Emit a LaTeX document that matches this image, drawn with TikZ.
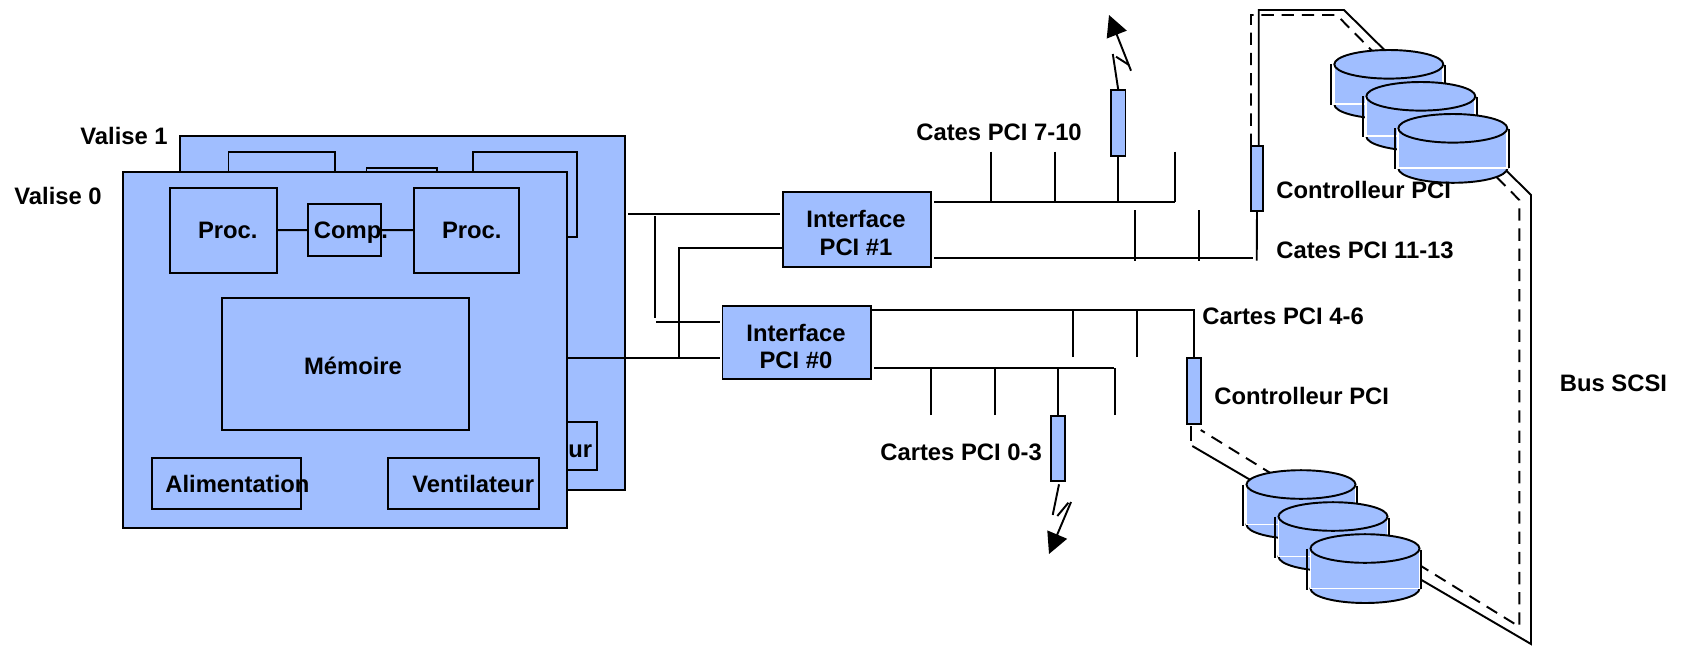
\documentclass[tikz,border=0pt]{standalone}
\usepackage{fontspec}
\setmainfont{Liberation Sans}
\usetikzlibrary{arrows.meta}
\definecolor{bleu}{RGB}{160,190,255}
\tikzset{
  trait/.style={line width=1.1pt},
  boite/.style 2 args={draw,fill=bleu,line width=1.1pt,minimum width=#1*0.02cm,minimum height=#2*0.02cm,inner sep=0pt,outer sep=0pt},
  etiquette/.style={anchor=base west,inner sep=0pt,align=center,font=\bfseries\fontsize{13.55}{15.9}\selectfont},
  fleche/.style={line width=1.1pt,-{Triangle[length=12pt,width=12pt]}},
  disque/.pic={
    \draw [trait,fill=bleu] (0,40) ellipse [x radius=54.5,y radius=14.5];
    \draw [draw=white,line width=1pt,fill=bleu] (-54.5,0) rectangle (54.5,40);
    \draw [line width=1.2pt] (-58,0) -- (-58,41);
    \draw [line width=1.2pt] (56.2,1) -- (56.2,40);
    \draw [trait,fill=bleu] (0,0) ellipse [x radius=54.5,y radius=14.3];
  }
}
\begin{document}
\begin{tikzpicture}[x=0.02cm,y=-0.02cm]
\useasboundingbox (0,0) rectangle (1683,646);
% valise 1
\node [boite={445}{354.3}] (valun) at (402.5,312.85) {};
\node [boite={106.5}{84.7}] (procgun) at (281.75,194.35) {};
\node [boite={70.5}{52}] (compun) at (401.75,194) {};
\node [boite={104}{84.7}] (procdun) at (525,194.35) {};
\node [boite={151}{48}] (ventun) at (521.5,446) {};
\node [etiquette] (urun) at (568,457.3) {ur};
% liaisons vers les interfaces
\node [boite={148.4}{74.7}] (intun) at (857.2,229.35) {};
\node [boite={148.5}{72.7}] (intzero) at (796.75,342.35) {};
\node [etiquette,anchor=center] (tintun) at (856,233) {Interface\\PCI \#1};
\node [etiquette,anchor=center] (tintzero) at (796,346.5) {Interface\\PCI \#0};
\coordinate (la) at (628,214);
\coordinate (lb) at (779.5,214);
\coordinate (lc) at (654.7,216);
\coordinate (ld) at (654.7,318);
\coordinate (le) at (656,322.3);
\coordinate (lf) at (720,322.3);
\coordinate (lg) at (782,248);
\coordinate (lh) at (679,248);
\coordinate (li) at (679,357);
\coordinate (lj) at (560,358);
\coordinate (lk) at (720,358);
\draw [trait] (la) -- (lb);
\draw [trait] (lc) -- (ld);
\draw [trait] (le) -- (lf);
\draw [trait] (lg) -- (lh) -- (li);
\draw [trait] (lj) -- (lk);
% valise 0
\node [boite={444.4}{356}] (valzero) at (344.8,350) {};
\node [boite={106.4}{84.7}] (procg) at (223.6,230.35) {};
\node [boite={72.6}{52}] (comp) at (344.7,230) {};
\node [boite={104.6}{84.7}] (procd) at (466.7,230.35) {};
\node [boite={247}{132}] (memoire) at (345.5,364) {};
\node [boite={149}{50.7}] (alim) at (226.5,483.35) {};
\node [boite={151}{50.7}] (vent) at (463.5,483.35) {};
\draw [trait] (procg) -- (comp);
\draw [trait] (comp) -- (procd);
\node [etiquette] (tvalun) at (80,144.7) {Valise 1};
\node [etiquette] (tvalzero) at (14,204.7) {Valise 0};
\node [etiquette] (tprocg) at (197.7,238.3) {Proc.};
\node [etiquette] (tcomp) at (313.6,238.3) {Comp.};
\node [etiquette] (tprocd) at (441.7,238.3) {Proc.};
\node [etiquette] (tmemoire) at (303.7,374) {Mémoire};
\node [etiquette] (talim) at (165,492.7) {Alimentation};
\node [etiquette] (tvent) at (412,492.7) {Ventilateur};
% bus PCI
\node [boite={14.5}{66.3}] (carteun) at (1118.25,123.15) {};
\node [boite={14.4}{65}] (cartezero) at (1058.2,448.5) {};
\node [boite={12.3}{64.7}] (ctrlun) at (1257,178.35) {};
\node [boite={14.3}{66.3}] (ctrlzero) at (1193.85,391.15) {};
\coordinate (busa) at (934,202);
\coordinate (busb) at (1175,202);
\coordinate (busc) at (934,258);
\coordinate (busd) at (1253,258);
\coordinate (buse) at (871,310.3);
\coordinate (busf) at (1193.85,310.3);
\coordinate (busg) at (874.4,368.3);
\coordinate (bush) at (1113.6,368.3);
\draw [trait] (busa) -- (busb);
\draw [trait] (busc) -- (busd);
\draw [trait] (buse) -- (busf) -- (ctrlzero.north);
\draw [trait] (busg) -- (bush);
\foreach \n/\x in {a/990.7,b/1055,d/1175} {
  \coordinate (ht\n) at (\x,151.7);
  \draw [trait] (ht\n) -- (ht\n |- busb);
}
\draw [trait] (carteun.south) -- (carteun.south |- busb);
\foreach \n/\x in {a/1135,b/1199} {
  \coordinate (mt\n) at (\x,210);
  \coordinate (mb\n) at (\x,260.7);
  \draw [trait] (mt\n) -- (mb\n);
}
\coordinate (mc) at (1256.7,260.7);
\draw [trait] (ctrlun.south) -- (mc);
\foreach \n/\x in {a/1073,b/1137} {
  \coordinate (bt\n) at (\x,357);
  \draw [trait] (bt\n) -- (bt\n |- busf);
}
\foreach \n/\x in {a/930.6,b/995,d/1114.7} {
  \coordinate (bb\n) at (\x,415);
  \draw [trait] (bb\n) -- (bb\n |- bush);
}
\draw [trait] (cartezero.north) -- (cartezero.north |- bush);
% antennes
\coordinate (ana) at (1112.8,54);
\coordinate (anb) at (1116,56.7);
\coordinate (anc) at (1129,65);
\coordinate (and) at (1131,70.7);
\coordinate (ane) at (1109,15);
\draw [trait] (carteun.north) -- (ana);
\draw [trait] (anb) -- (anc);
\draw [fleche] (and) -- (ane);
\coordinate (ara) at (1059,484.3);
\coordinate (arb) at (1052.7,515);
\coordinate (arc) at (1057.3,516);
\coordinate (ard) at (1068.4,502.7);
\coordinate (are) at (1071,502);
\coordinate (arf) at (1049,554);
\draw [trait] (ara) -- (arb);
\draw [trait] (arc) -- (ard);
\draw [fleche] (are) -- (arf);
% bus SCSI
\coordinate (sa) at (1258.7,10);
\coordinate (sb) at (1344,10);
\coordinate (sc) at (1531,195);
\coordinate (sd) at (1531,644);
\coordinate (se) at (1192.3,446);
\coordinate (sf) at (1191,426);
\coordinate (sg) at (1191,440.7);
\coordinate (sh) at (1258.7,146);
\draw [trait] (sh) -- (sa) -- (sb) -- (sc) -- (sd) -- (se);
\draw [trait] (sf) -- (sg);
\coordinate (pa) at (1251,146);
\coordinate (pb) at (1251,15);
\coordinate (pc) at (1336.7,15);
\coordinate (pd) at (1519.3,200);
\coordinate (pe) at (1519.3,626.7);
\coordinate (pf) at (1200.7,430);
\draw [trait,dash pattern=on 7pt off 4.5pt] (pa) -- (pb) -- (pc) -- (pd) -- (pe) -- (pf);
% disques
\foreach \d in {0,32,64} {
  \pic at (1388.8+\d,64.3+\d) {disque};
  \pic at (1301+\d,484.5+\d) {disque};
}
\node [etiquette] (tcatesa) at (916,140.7) {Cates PCI 7-10};
\node [etiquette] (tcatesb) at (1276,258.3) {Cates PCI 11-13};
\node [etiquette] (tcartesa) at (1202,324.6) {Cartes PCI 4-6};
\node [etiquette] (tcartesb) at (880,460.3) {Cartes PCI 0-3};
\node [etiquette] (tctrlun) at (1276,198.3) {Controlleur PCI};
\node [etiquette] (tctrlzero) at (1214,404) {Controlleur PCI};
\node [etiquette] (tbus) at (1559.5,391) {Bus SCSI};
\end{tikzpicture}
\end{document}
